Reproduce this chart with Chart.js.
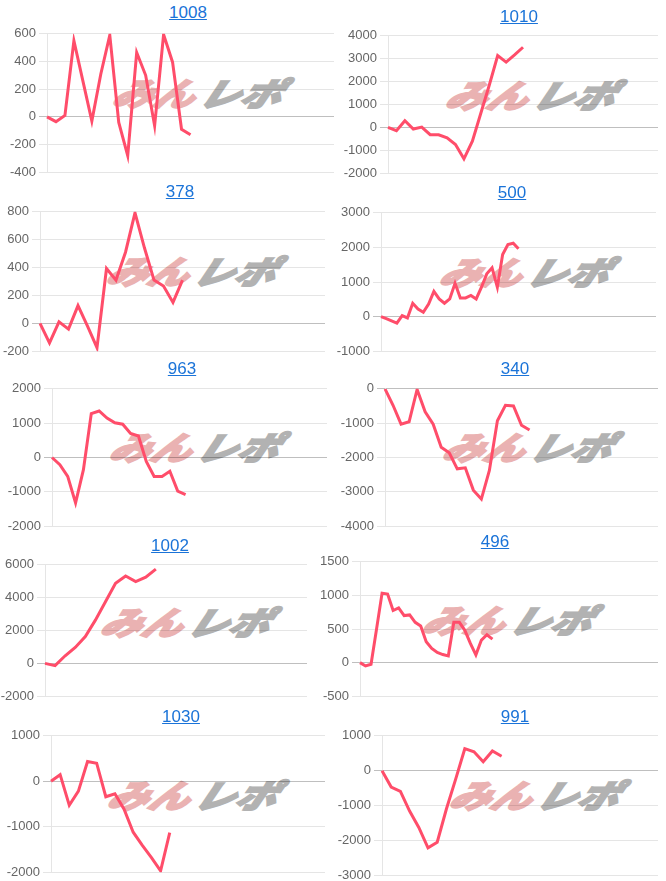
<!DOCTYPE html>
<html>
<head>
<meta charset="utf-8">
<script src="https://cdn.jsdelivr.net/npm/chart.js@4"></script>
<style>
  body { margin: 0; background: #fff; }
  #page { position: relative; width: 666px; height: 881px; overflow: hidden; }
  .box { position: absolute; z-index: 2; }
  .ttl {
    position: absolute; z-index: 3; transform: translate(-50%, -50%);
    font: 17px "Liberation Sans", Arial, sans-serif; color: #1a73d8;
    text-decoration: underline; white-space: nowrap;
  }
  .wm {
    position: absolute; z-index: 1; white-space: nowrap;
    font: italic 900 34px/1 "Noto Sans CJK JP", sans-serif;
    transform-origin: left top; transform: scale(1.2, 0.95) skewX(-16deg);
  }
  .wm .a { color: rgb(234, 178, 178); -webkit-text-stroke: 2px rgb(234, 178, 178); }
  .wm .b { color: rgb(178, 178, 178); -webkit-text-stroke: 2px rgb(178, 178, 178); margin-left: 4px; }
</style>
</head>
<body>
<div id="page"></div>
<script>
// chart titles
const titles = ['1008', '1010', '378', '500', '963', '340', '1002', '496', '1030', '991'];

// series values, one list per chart
const c1008 = [0, -35, 10, 550, 260, -30, 310, 590, -40, -280, 465, 300, -65, 595, 395, -90, -130];
const c1010 = [0, -145, 290, -70, 15, -320, -320, -460, -750, -1370, -600, 620, 1840, 3140, 2850, 3165, 3500];
const c378 = [0, -141, 10, -42, 127, -20, -175, 393, 310, 510, 793, 540, 310, 268, 150, 310];
const c500 = [0, -60, -125, -190, 30, -40, 385, 220, 125, 365, 730, 510, 385, 510, 965, 540, 540, 610, 510, 850, 1235, 1410, 850, 1795, 2085, 2120, 1960];
const c963 = [0, -210, -550, -1320, -355, 1280, 1355, 1150, 1010, 970, 700, 625, -115, -550, -550, -400, -980, -1080];
const c340 = [0, -480, -1030, -960, -20, -670, -1030, -1700, -1865, -2330, -2300, -2950, -3210, -2375, -930, -480, -500, -1060, -1200];
const c1002 = [0, -140, 460, 970, 1630, 2630, 3750, 4870, 5320, 4980, 5250, 5740];
const c496 = [0, -50, -25, 500, 1034, 1020, 775, 815, 700, 710, 600, 545, 310, 210, 150, 120, 100, 600, 600, 480, 285, 115, 335, 415, 350];
const c1030 = [0, 145, -527, -217, 433, 397, -340, -274, -614, -1120, -1410, -1680, -1970, -1130];
const c991 = [0, -470, -595, -1160, -1630, -2215, -2055, -1100, -250, 630, 540, 255, 565, 415];
const series = [c1008, c1010, c378, c500, c963, c340, c1002, c496, c1030, c991];

// number of x categories on each chart (line only fills part of it)
const xCounts = [33, 33, 31, 53, 36, 35, 27, 55, 31, 31];

// y axis tick range per chart
const yMin = [-400, -2000, -200, -1000, -2000, -4000, -2000, -500, -2000, -3000];
const yMax = [600, 4000, 800, 3000, 2000, 0, 6000, 1500, 1000, 1000];
const yStep = [200, 1000, 200, 1000, 1000, 1000, 2000, 500, 1000, 1000];

// layout: axis x, top grid y, bottom grid y, right end x, title centre, watermark corner
const boxes = [
  { ax: 47, top: 33, bot: 173, right: 334, tx: 188, ty: 13, wx: 118, wy: 76 },
  { ax: 388, top: 35, bot: 174, right: 658, tx: 519, ty: 17, wx: 451, wy: 78 },
  { ax: 40, top: 211, bot: 352, right: 325, tx: 180, ty: 192, wx: 112, wy: 254 },
  { ax: 381, top: 212, bot: 352, right: 656, tx: 512, ty: 193, wx: 445, wy: 255 },
  { ax: 52, top: 388, bot: 527, right: 327, tx: 182, ty: 369, wx: 115, wy: 430 },
  { ax: 385, top: 388, bot: 527, right: 658, tx: 515, ty: 369, wx: 448, wy: 430 },
  { ax: 45, top: 564, bot: 697, right: 307, tx: 170, ty: 546, wx: 106, wy: 605 },
  { ax: 360, top: 561, bot: 697, right: 658, tx: 495, ty: 542, wx: 428, wy: 603 },
  { ax: 51, top: 735, bot: 873, right: 325, tx: 181, ty: 717, wx: 113, wy: 778 },
  { ax: 382, top: 735, bot: 876, right: 658, tx: 515, ty: 717, wx: 455, wy: 778 }
];

const AXIS_W = 45; // fixed y-axis width so the plot area lands where we want
const PAD = 10;
const page = document.getElementById('page');

series.forEach((values, i) => {
  const b = boxes[i];

  // watermark behind the chart
  const wm = document.createElement('div');
  wm.className = 'wm';
  wm.style.left = (b.wx + 3) + 'px';
  wm.style.top = (b.wy + 1) + 'px';
  wm.innerHTML = '<span class="a">みん</span><span class="b">レポ</span>';
  page.appendChild(wm);

  // title link
  const t = document.createElement('a');
  t.className = 'ttl';
  t.href = '#';
  t.textContent = titles[i];
  t.style.left = b.tx + 'px';
  t.style.top = b.ty + 'px';
  page.appendChild(t);

  // chart box
  const box = document.createElement('div');
  box.className = 'box';
  box.style.left = (b.ax - AXIS_W) + 'px';
  box.style.top = (b.top - PAD) + 'px';
  box.style.width = (b.right - b.ax + AXIS_W) + 'px';
  box.style.height = (b.bot - b.top + PAD * 2) + 'px';
  const cv = document.createElement('canvas');
  box.appendChild(cv);
  page.appendChild(box);

  const labels = Array.from({ length: xCounts[i] }, (_, k) => String(k + 1));

  new Chart(cv.getContext('2d'), {
    type: 'line',
    data: {
      labels: labels,
      datasets: [{
        data: values,
        borderColor: 'rgb(255, 77, 106)',
        borderWidth: 3,
        pointRadius: 0,
        tension: 0,
        fill: false
      }]
    },
    options: {
      responsive: true,
      maintainAspectRatio: false,
      animation: false,
      layout: { padding: { top: PAD, bottom: PAD, left: 0, right: 0 } },
      plugins: { legend: { display: false }, tooltip: { enabled: false } },
      scales: {
        x: { display: false },
        y: {
          min: yMin[i],
          max: yMax[i],
          ticks: {
            stepSize: yStep[i],
            color: '#666',
            font: { size: 13, family: '"Liberation Sans", Arial, sans-serif' },
            callback: v => String(v) // no thousands separator
          },
          grid: {
            color: ctx => (ctx.tick && ctx.tick.value === 0) ? 'rgba(0,0,0,0.25)' : 'rgba(0,0,0,0.1)'
          },
          border: { display: true, color: 'rgba(0,0,0,0.1)' },
          afterFit: scale => { scale.width = AXIS_W; }
        }
      }
    }
  });
});
</script>
</body>
</html>
